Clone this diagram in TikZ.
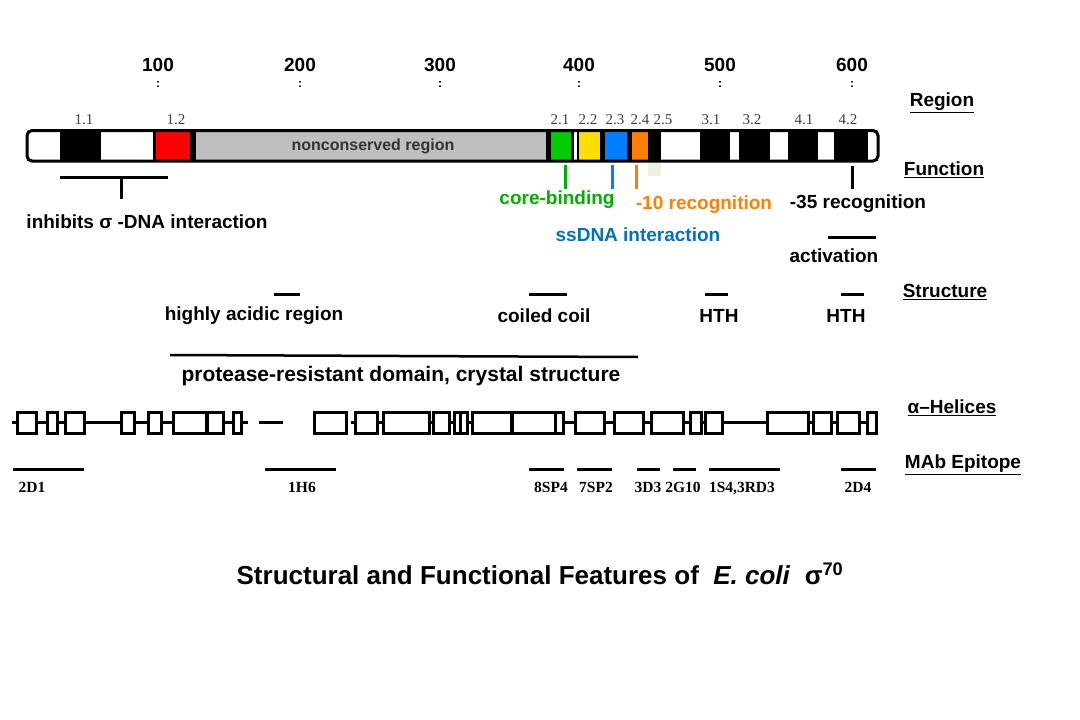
\documentclass[tikz,border=0pt]{standalone}
\usepackage{fontspec}
\setmainfont{Liberation Serif}
\newfontfamily\arialfont{Liberation Sans}
\definecolor{segred}{RGB}{255,0,0}
\definecolor{seggray}{RGB}{191,191,191}
\definecolor{seggreen}{RGB}{0,204,0}
\definecolor{segyellow}{RGB}{255,221,0}
\definecolor{segblue}{RGB}{0,128,255}
\definecolor{segorange}{RGB}{255,128,0}
\definecolor{txtgreen}{RGB}{0,176,0}
\definecolor{txtblue}{RGB}{0,112,192}
\definecolor{paleblock}{RGB}{236,242,230}
\tikzset{
  lbl/.style={font=\arialfont\bfseries\fontsize{19}{22}\selectfont,inner sep=0pt},
  side/.style={font=\arialfont\bfseries\fontsize{19}{22}\selectfont,inner sep=0pt},
  regno/.style={font=\fontsize{15}{17}\selectfont,text=black!75,inner sep=0pt},
  mab/.style={font=\bfseries\fontsize{15.5}{17}\selectfont,inner sep=0pt,anchor=base},
  helix/.style={draw,fill=white,line width=3pt}
}
\begin{document}
\begin{tikzpicture}[x=1pt,y=-1pt,line join=miter,line width=3pt]
	\useasboundingbox (0,0) rectangle (1080,720);
	% residue ruler
	\foreach \n/\x in {100/158,200/300,300/440,400/579,500/720,600/852}{
		\path (\x,65) node[font=\arialfont\bfseries\fontsize{19}{22}\selectfont,inner sep=0pt] (num\n) {\n};
		\path (\x,84) node[font=\arialfont\bfseries\fontsize{12}{13}\selectfont,inner sep=0pt] (dot\n) {:};
	}
	% region numbers
	\foreach \r/\x [count=\i] in {1.1/84,1.2/176,2.1/560,2.2/588,2.3/615,2.4/640,2.5/663,3.1/711,3.2/752,4.1/804,4.2/848}
		\path (\x,120) node[regno] (reg\i) {\r};
	% the sigma bar
	\fill[white] (27,130.5) rectangle (878,161);
	\foreach \a/\b/\c in {60/101/black,153/156/black,156/190/segred,190/196/black,196/546/seggray,
		546/551/black,551/571/seggreen,571/579/black,579/600/segyellow,600/605/black,605/627/segblue,
		627/632/black,632/648/segorange,648/661/black,700/730/black,739/770/black,788/818/black,834/868/black}
		\fill[\c] (\a,130.5) rectangle (\b,161);
	\fill[white] (573.5,131) rectangle (576.5,161);
	\fill[paleblock] (648,162.5) rectangle (661,176);
	\draw[rounded corners=5pt] (27,130.5) rectangle (878,161);
	\path (373,146) node[font=\arialfont\bfseries\fontsize{16}{18}\selectfont,text=black!80,inner sep=0pt] (noncons) {nonconserved region};
	% side headings
	\path (942,103) node[side] (hregion) {\underline{Region}};
	\path (944,170) node[side] (hfunction) {\underline{Function}};
	\path (945,292) node[side] (hstructure) {\underline{Structure}};
	\path (952,408) node[side] (hhelix) {\underline{α–Helices}};
	\path (963,465) node[side] (hmab) {\underline{MAb Epitope}};
	% function
	\draw (60,177) -- (168,177);
	\draw (121,177) -- (121,199);
	\path (25,222) node[lbl,anchor=west] (inhib) {inhibits σ -DNA interaction};
	\draw[txtgreen] (565,165) -- (565,189);
	\path (557,200) node[lbl,text=txtgreen] (core) {core-binding};
	\draw[segblue] (612,165) -- (612,189);
	\path (638,235) node[lbl,text=txtblue] (ssdna) {ssDNA interaction};
	\draw[segorange] (636,165) -- (636,189);
	\path (704,205) node[lbl,text=segorange] (minus10) {-10 recognition};
	\draw (852,166) -- (852,189);
	\path (858,204) node[lbl] (minus35) {-35 recognition};
	\draw (828,237) -- (876,237);
	\path (834,256) node[lbl] (activ) {activation};
	% structure
	\draw (274,294) -- (300,294);
	\path (254,316) node[lbl] (acidic) {highly acidic region};
	\draw (529,294) -- (567,294);
	\path (544,316) node[lbl] (coiled) {coiled coil};
	\draw (705,294) -- (728,294);
	\path (719,316) node[lbl] (hth1) {HTH};
	\draw (841,294) -- (864,294);
	\path (846,316) node[lbl] (hth2) {HTH};
	\draw[line width=2.5pt] (170,355) -- (400,356) -- (638,357);
	\path (401,376) node[lbl,font=\arialfont\bfseries\fontsize{21}{24}\selectfont] (protease) {protease-resistant domain, crystal structure};
	% alpha helices
	\draw (12,422) -- (248,422);
	\draw (259,422) -- (283,422);
	\draw (351,422) -- (876,422);
	\foreach \a/\b in {17/36,47/57,65/84,121/134,148/161,173/207,207/223,233/241,314/346,355/377,383/429,
		433/449,454/460,460/467,472/512,512/555,555/563,575/604,614/643,651/683,690/701,705/722,767/808,
		813/831,837/859,867/876}
		\draw[helix] (\a,412) rectangle (\b,433);
	\fill (205,411) rectangle (209,434);
	\fill (510,411) rectangle (514,434);
	% MAb epitopes
	\foreach \a/\b/\x/\t [count=\i] in {13/84/32/2D1,265/336/302/1H6,529/564/551/8SP4,577/612/596/7SP2,
		637/660/648/3D3,673/696/683/2G10,709/780/742/{1S4,3RD3},841/876/858/2D4}{
		\draw (\a,469) -- (\b,469);
		\path (\x,492) node[mab] (mab\i) {\t};
	}
	% title
	\path (540,574) node[font=\arialfont\bfseries\fontsize{26}{30}\selectfont,inner sep=0pt] (title)
		{Structural and Functional Features of \ \textit{E. coli} \ σ\textsuperscript{70}};
\end{tikzpicture}
\end{document}
